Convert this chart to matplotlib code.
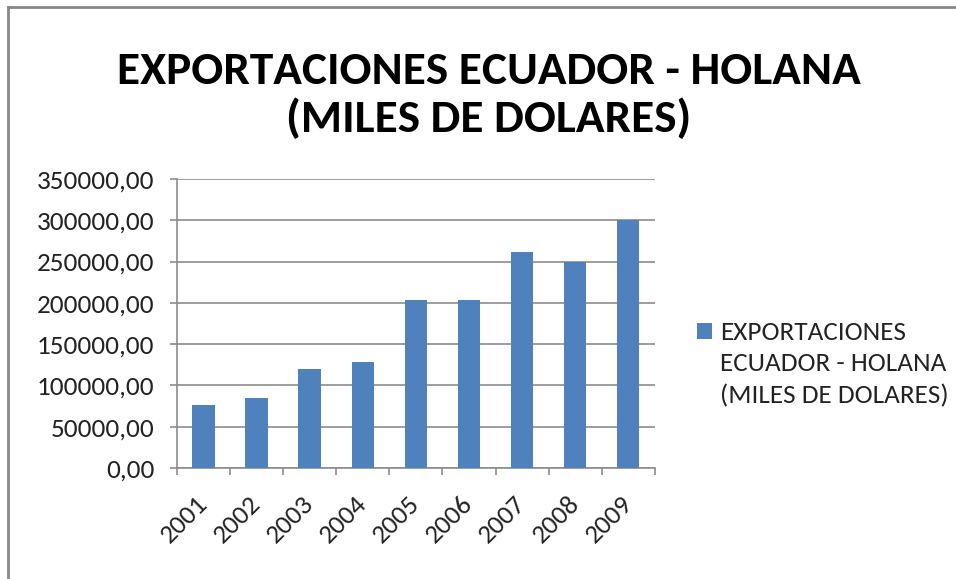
import matplotlib
matplotlib.use('Agg')
import matplotlib.pyplot as plt
from matplotlib.patches import Rectangle
from matplotlib.container import BarContainer
from matplotlib.legend_handler import HandlerPatch
from matplotlib.transforms import ScaledTranslation
import numpy as np

# data
years = ['2001', '2002', '2003', '2004', '2005', '2006', '2007', '2008', '2009']
exports = [75900, 85100, 119500, 128700, 203400, 203400, 261100, 249800, 300200]
y_ticks = [0, 50000, 100000, 150000, 200000, 250000, 300000, 350000]
series_name = 'EXPORTACIONES\nECUADOR - HOLANA\n(MILES DE DOLARES)'
title = 'EXPORTACIONES ECUADOR - HOLANA\n(MILES DE DOLARES)'

plt.rcParams['font.family'] = ['Carlito', 'DejaVu Sans']

bar_color = '#4f81bd'
grid_color = '#8c8c8c'
text_color = '#222222'
label_size = 19.5
legend_spacing = 1.45


def first_line_square(legend, orig_handle, xdescent, ydescent, width, height, fontsize):
    # excel puts the marker next to the first line of a wrapped label
    shift = fontsize * 1.2
    return Rectangle((-xdescent, -ydescent + shift), width, height)


fig = plt.figure(figsize=(9.56, 5.79), dpi=100)
ax = fig.add_axes([0.185, 0.1917, 0.5, 0.4993])

x = np.arange(len(years))
bars = ax.bar(x, exports, width=0.42, color=bar_color, label=series_name, zorder=3)

ax.set_xlim(-0.5, len(years) - 0.5)
ax.set_ylim(0, 350000)
ax.set_yticks(y_ticks)
ax.set_yticklabels([f'{v:.2f}'.replace('.', ',') for v in y_ticks],
                   fontsize=label_size, color=text_color)
ax.yaxis.grid(True, color=grid_color, linewidth=1.2, zorder=0)

# x ticks sit between the categories, labels at centers
ax.set_xticks(np.arange(-0.5, len(years), 1.0))
ax.set_xticklabels([])
ax.set_xticks(x, minor=True)
ax.set_xticklabels(years, minor=True, rotation=45, ha='right', va='top',
                   fontsize=label_size, color=text_color)
ax.tick_params(axis='x', which='minor', length=0, pad=17)
ax.tick_params(axis='x', which='major', length=5, color=grid_color, width=1.2)
ax.tick_params(axis='y', length=5, color=grid_color, width=1.2, pad=11)

# nudge the rotated year labels a bit to the right
nudge = ScaledTranslation(8 / 100, 0, fig.dpi_scale_trans)
for lbl in ax.get_xticklabels(minor=True):
    lbl.set_transform(lbl.get_transform() + nudge)

for side in ['top', 'right']:
    ax.spines[side].set_visible(False)
for side in ['left', 'bottom']:
    ax.spines[side].set_color(grid_color)
    ax.spines[side].set_linewidth(1.2)

fig.text(0.511, 0.836, title, ha='center', va='center', fontsize=34,
         fontweight='bold', color='black', linespacing=1.2)

square = HandlerPatch(patch_func=first_line_square,
                      update_func=lambda h, orig: h.update_from(orig[0]))
leg = ax.legend(loc='upper left', bbox_to_anchor=(1.088, 0.51), frameon=False,
                fontsize=label_size, handlelength=0.55, handleheight=0.55,
                handletextpad=0.3, borderpad=0, borderaxespad=0,
                handler_map={BarContainer: square})
for t in leg.get_texts():
    t.set_linespacing(legend_spacing)
    t.set_color(text_color)

# chart border (top and left edges visible in the reference)
fig.add_artist(plt.Line2D([0.0085, 1.0], [0.988, 0.988], color='#888888',
                          linewidth=2, transform=fig.transFigure))
fig.add_artist(plt.Line2D([0.0085, 0.0085], [0.0, 0.988], color='#888888',
                          linewidth=2, transform=fig.transFigure))

fig.savefig('out.png', dpi=100)
